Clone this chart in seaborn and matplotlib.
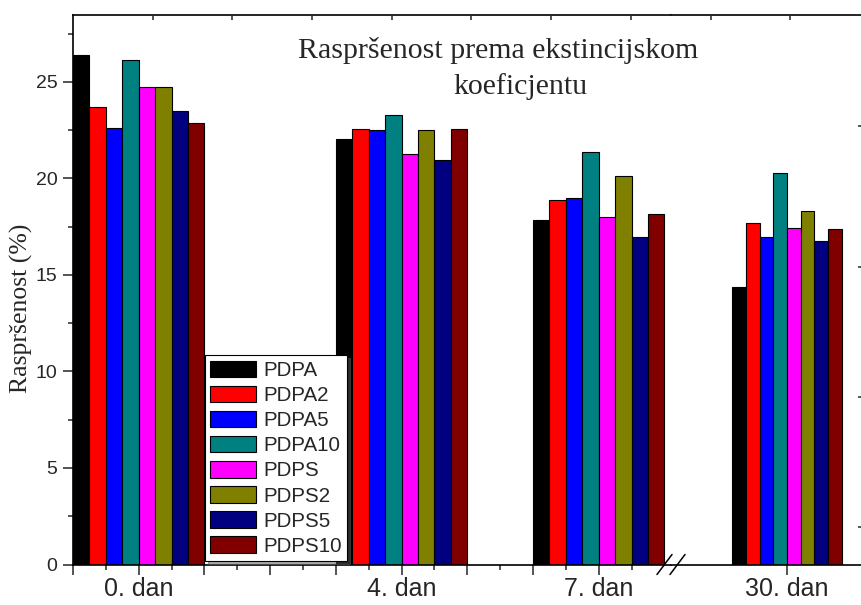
import numpy as np
import pandas as pd
import matplotlib.pyplot as plt
import seaborn as sns
from matplotlib.lines import Line2D

# data
days = [0, 4, 7, 30]
day_labels = ['0. dan', '4. dan', '7. dan', '30. dan']
samples = ['PDPA', 'PDPA2', 'PDPA5', 'PDPA10', 'PDPS', 'PDPS2', 'PDPS5', 'PDPS10']
colors = ['#000000', '#FF0000', '#0000FF', '#008080', '#FF00FF', '#808000', '#000080', '#800000']

# one value per day (0, 4, 7, 30)
pdpa = [26.38, 22.05, 17.85, 14.40]
pdpa2 = [23.72, 22.56, 18.87, 17.68]
pdpa5 = [22.60, 22.50, 19.01, 16.99]
pdpa10 = [26.16, 23.29, 21.39, 20.27]
pdps = [24.76, 21.25, 18.02, 17.45]
pdps2 = [24.76, 22.50, 20.15, 18.32]
pdps5 = [23.52, 20.97, 16.99, 16.78]
pdps10 = [22.88, 22.56, 18.18, 17.40]

right_ticks = [22.7, 15.4, 8.68, 1.94]

series = [pdpa, pdpa2, pdpa5, pdpa10, pdps, pdps2, pdps5, pdps10]
rows = []
for name, vals in zip(samples, series):
    for d, v in zip(days, vals):
        rows.append({'Dan': d, 'Uzorak': name, 'Vrijednost': v})
df = pd.DataFrame(rows)

sns.set_style("ticks")
plt.rcParams['font.family'] = ['Liberation Sans', 'DejaVu Sans']
serif = ['Liberation Serif', 'DejaVu Serif']

W, H = 861, 605
fig = plt.figure(figsize=(W / 100, H / 100), dpi=100)

# frame in pixels (right end runs off the canvas, as in the reference)
px_left, px_break, px_right = 73, 671, 870
px_bottom, px_top = 564.5, 15


def rect(a, b):
    return [a / W, (H - px_bottom) / H, (b - a) / W, (px_bottom - px_top) / H]


ax_l = fig.add_axes(rect(px_left, px_break))
ax_r = fig.add_axes(rect(px_break, px_right))
ylim = (0, 28.47)

sns.barplot(data=df[df['Dan'] < 10], x='Dan', y='Vrijednost', hue='Uzorak',
            hue_order=samples, palette=colors, native_scale=True, width=2 / 3,
            saturation=1, errorbar=None, edgecolor='black', linewidth=0.8, ax=ax_l)
sns.barplot(data=df[df['Dan'] > 10], x='Dan', y='Vrijednost', hue='Uzorak',
            hue_order=samples, palette=colors, native_scale=True, width=2,
            saturation=1, errorbar=None, edgecolor='black', linewidth=0.8,
            legend=False, ax=ax_r)

# left part of broken axis: -1 .. 8.1 days
ax_l.set_xlim(-1, 8.10)
ax_l.set_ylim(*ylim)
maj = np.arange(-1, 8, 1)
ax_l.set_xticks(maj, [day_labels[days.index(t)] if t in days else '' for t in maj])
ax_l.set_xticks(np.arange(-0.5, 8, 1), minor=True)
ax_l.set_yticks(np.arange(0, 26, 5))
ax_l.set_yticks(np.arange(2.5, 28, 5), minor=True)
ax_l.tick_params(axis='both', which='major', length=7.2, width=1.1, direction='out')
ax_l.tick_params(axis='both', which='minor', length=3.6, width=1.1, direction='out')
ax_l.tick_params(axis='x', labelsize=18, pad=2)
ax_l.tick_params(axis='y', labelsize=14, pad=4)
ax_l.spines['right'].set_visible(False)
ax_l.set_xlabel('')
ax_l.set_ylabel('Raspršenost (%)', family=serif, fontsize=18.5)
ax_l.yaxis.set_label_coords(-0.067, 0.467)

# right part: day 30
ax_r.set_xlim(27.89, 31.51)
ax_r.set_ylim(*ylim)
ax_r.set_xticks([30], [day_labels[3]])
ax_r.tick_params(axis='x', which='major', length=7.2, width=1.1, labelsize=18, pad=2)
ax_r.yaxis.tick_right()
ax_r.set_yticks(right_ticks, ['' for _ in right_ticks])
ax_r.tick_params(axis='y', which='both', direction='in', length=8.6, width=1.1)
ax_r.spines['left'].set_visible(False)
ax_r.set_xlabel('')
ax_r.set_ylabel('')

for ax in (ax_l, ax_r):
    for s in ax.spines.values():
        s.set_linewidth(1.2)
        s.set_color('black')

# top ticks spanning the whole frame
ax_t = fig.add_axes(rect(px_left, px_right), frameon=False)
ax_t.set_xlim(0, 1)
ax_t.xaxis.tick_top()
ax_t.set_xticks(np.arange(0.1, 0.95, 0.1))
ax_t.tick_params(axis='x', direction='in', length=3.6, width=1.1, labeltop=False)
ax_t.yaxis.set_visible(False)

# legend
handles, labels = ax_l.get_legend_handles_labels()
ax_l.legend(handles, labels, loc='lower left',
            bbox_to_anchor=((205 - px_left) / (px_break - px_left), (px_bottom - 561) / (px_bottom - px_top)),
            borderaxespad=0, fontsize=14.8, frameon=True, fancybox=False,
            edgecolor='black', framealpha=1, shadow={'ox': 2, 'oy': -2, 'color': '0.35'},
            handlelength=2.25, handleheight=0.86, handletextpad=0.33,
            labelspacing=0.28, borderpad=0.25, title=None)
ax_l.get_legend().get_frame().set_linewidth(0.8)

# break marks on the bottom axis
bx = px_break / W
by = (H - px_bottom) / H
dx, dy = 7.5 / W, 10 / H
for off in (-6.5 / W, 6.5 / W):
    fig.add_artist(Line2D([bx + off - dx, bx + off + dx], [by - dy, by + dy],
                          transform=fig.transFigure, color='black', lw=1.1))

# title
fig.text(498 / W, (H - 50) / H, 'Raspršenost prema ekstincijskom', family=serif,
         fontsize=21.5, ha='center', va='center')
fig.text(520 / W, (H - 87) / H, 'koeficjentu', family=serif,
         fontsize=21.5, ha='center', va='center')

fig.savefig('out.png', dpi=100)
